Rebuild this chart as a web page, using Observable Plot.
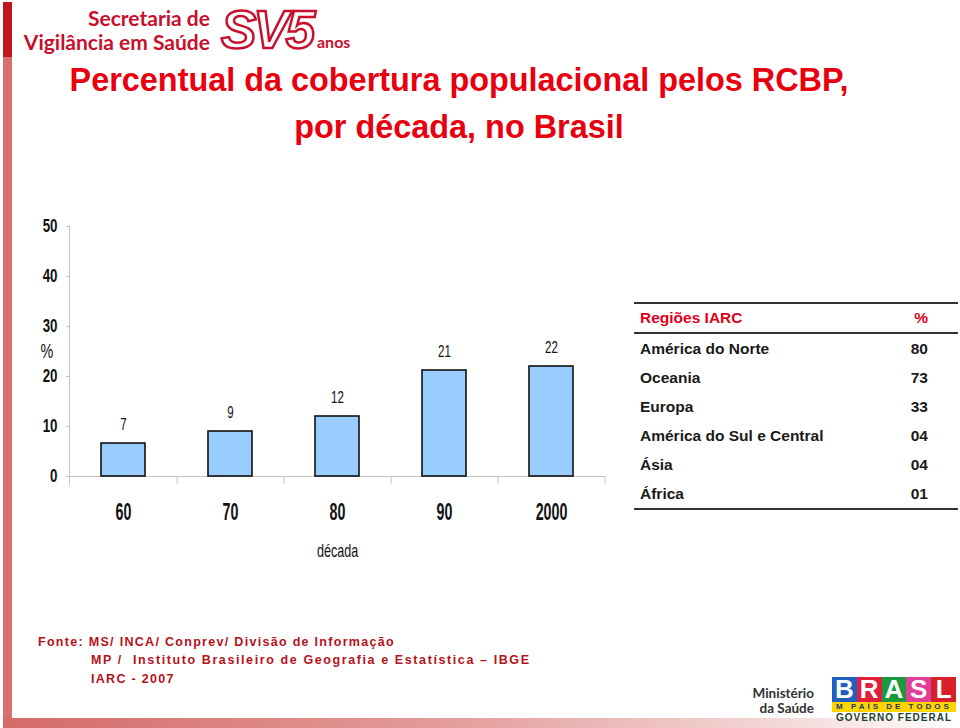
<!DOCTYPE html>
<html>
<head>
<meta charset="utf-8">
<script src="https://cdn.jsdelivr.net/npm/d3@7"></script>
<script src="https://cdn.jsdelivr.net/npm/@observablehq/plot@0.6"></script>
<style>
  html, body { margin: 0; padding: 0; background: #fff; }
  #page { position: relative; width: 960px; height: 728px; overflow: hidden; background: #fff; font-family: "Liberation Sans", Arial, sans-serif; }
  .abs { position: absolute; }
  #stripeTop { left: 3px; top: 2px; width: 9px; height: 55px; background: #c2161c; }
  #stripeLeft { left: 3px; top: 57px; width: 9px; height: 663px; background: #d8716c; }
  #stripeBottom { left: 3px; top: 718px; width: 957px; height: 10px; background: linear-gradient(90deg, #d46a68 0%, #e29a98 45%, #f3d6d5 80%, #ffffff 100%); }
  #logo1 { left: 10px; top: 6px; width: 200px; text-align: right; color: #c8102e; font-family: Lato, "Open Sans", sans-serif; font-weight: bold; font-size: 21px; line-height: 24px; white-space: nowrap; }
  #logo2 { left: 221px; top: 5px; color: #fff; font-family: "Liberation Sans", Arial, sans-serif; font-weight: bold; font-style: italic; font-size: 53px; line-height: 50px; -webkit-text-stroke: 2.5px #c8102e; letter-spacing: -3px; }
  #logo3 { left: 317px; top: 33px; color: #c8102e; font-family: Lato, "Open Sans", sans-serif; font-weight: bold; font-size: 16px; line-height: 18px; }
  .title { left: 0; width: 918px; text-align: center; color: #e8000f; font-family: "Liberation Sans", Arial, sans-serif; font-weight: bold; font-size: 32.4px; line-height: 40px; white-space: nowrap; }
  #chart { left: 0; top: 200px; }
  #table { left: 634px; top: 302px; width: 324px; border-collapse: collapse; font-family: "Liberation Sans", Arial, sans-serif; font-size: 15.5px; font-weight: bold; color: #1a1a1a; }
  #table th, #table td { padding: 0 30px 0 6px; height: 29px; font-weight: bold; white-space: nowrap; }
  #table th { text-align: left; color: #e0001a; height: 28px; }
  #table td.v, #table th.v { text-align: right; }
  #table thead tr { border-top: 2px solid #333; border-bottom: 2px solid #333; }
  #table tbody tr:last-child { border-bottom: 2px solid #333; }
  .foot { color: #b5121b; font-family: "Liberation Sans", Arial, sans-serif; font-weight: bold; font-size: 12.5px; letter-spacing: 1.3px; white-space: pre; line-height: 16px; }
  #ms { left: 740px; top: 686px; width: 74px; text-align: right; color: #333; font-family: Lato, "Open Sans", sans-serif; font-weight: bold; font-size: 13.5px; line-height: 15px; }
  #brasil { left: 832px; top: 677px; width: 124px; height: 46px; }
  #brasil .letters { display: flex; height: 25px; }
  #brasil .letters span { flex: 1; font-family: "Liberation Sans", Arial, sans-serif; font-weight: 900; font-size: 26px; line-height: 25px; text-align: center; color: #fff; }
  #brasil .band { background: #ffd400; height: 10px; font-family: "Liberation Sans", Arial, sans-serif; font-weight: bold; font-size: 8px; line-height: 10px; letter-spacing: 3px; color: #1a3b6e; padding-left: 4px; white-space: nowrap; overflow: hidden; }
  #brasil .gov { font-family: "Liberation Sans", Arial, sans-serif; font-weight: bold; font-size: 10px; line-height: 11px; letter-spacing: 1px; color: #1d4230; text-align: center; white-space: nowrap; }
</style>
</head>
<body>
<div id="page">
  <div id="stripeTop" class="abs"></div>
  <div id="stripeLeft" class="abs"></div>
  <div id="stripeBottom" class="abs"></div>
  <div id="logo1" class="abs">Secretaria de<br>Vigilância em Saúde</div>
  <div id="logo2" class="abs">SV5</div>
  <div id="logo3" class="abs">anos</div>
  <div class="abs title" style="top:60px">Percentual da cobertura populacional pelos RCBP,</div>
  <div class="abs title" style="top:107px">por década, no Brasil</div>
  <div id="chart" class="abs"></div>
  <table id="table" class="abs"></table>
  <div class="abs foot" style="left:38px; top:634px">Fonte: MS/ INCA/ Conprev/ Divisão de Informação</div>
  <div class="abs foot" style="left:91px; top:652px; letter-spacing:1.6px">MP /  Instituto Brasileiro de Geografia e Estatística – IBGE</div>
  <div class="abs foot" style="left:91px; top:671px">IARC - 2007</div>
  <div id="ms" class="abs">Ministério<br>da Saúde</div>
  <div id="brasil" class="abs">
    <div class="letters">
      <span style="background:#1f5fbf">B</span><span style="background:#e0203a">R</span><span style="background:#1a9a3c">A</span><span style="background:#e0409a">S</span><span style="background:#d8202a">L</span>
    </div>
    <div class="band">M PAÍS DE TODOS</div>
    <div class="gov">GOVERNO FEDERAL</div>
  </div>
</div>
<script>
// ---- data ----
const decades = ["60", "70", "80", "90", "2000"];
const coverage = [6.6, 9, 12, 21.2, 22];
const yTicks = [0, 10, 20, 30, 40, 50];
const regions = ["América do Norte", "Oceania", "Europa", "América do Sul e Central", "Ásia", "África"];
const regionPct = [80, 73, 33, 4, 4, 1];

const data = decades.map((d, i) => ({decade: d, value: coverage[i]}));

// ---- chart ----
const W = 620, H = 380, ML = 69, MR = 15, MT = 26, MB = 104;
const step = (W - ML - MR) / decades.length;

const chart = Plot.plot({
  width: W,
  height: H,
  marginLeft: ML,
  marginRight: MR,
  marginTop: MT,
  marginBottom: MB,
  style: {fontFamily: '"Liberation Sans", Arial, sans-serif', color: "#111", background: "transparent", overflow: "visible"},
  x: {type: "band", domain: decades, paddingInner: 0.59, paddingOuter: 0.295},
  y: {domain: [0, 50], ticks: yTicks},
  marks: [
    Plot.frame({anchor: "left", stroke: "#c4c4c4", insetBottom: -8}),
    Plot.ruleY([0], {stroke: "#c4c4c4"}),
    Plot.ruleX(decades, {x: d => d, y1: 0, y2: 0, dx: step / 2, insetBottom: -8, stroke: "#c4c4c4"}),
    Plot.axisY({ticks: yTicks, tickSize: 3, tickPadding: 9, stroke: "#c4c4c4", fontSize: 18.5, fontWeight: "bold", fill: "#111", label: null}),
    Plot.axisX({tickSize: 0, tickPadding: 27, fontSize: 23, fontWeight: "bold", fill: "#111", label: null}),
    Plot.barY(data, {x: "decade", y: "value", fill: "#99ccff", stroke: "#111", strokeWidth: 1.6}),
    Plot.text(data, {x: "decade", y: "value", text: d => d3.format(".0f")(d.value), dy: -19, fontSize: 16, fill: "#111"}),
    Plot.text(["%"], {frameAnchor: "left", dx: -29, fontSize: 20, fill: "#111"}),
    Plot.text(["década"], {frameAnchor: "bottom", dy: 80, fontSize: 17.5, fill: "#111"})
  ]
});
document.getElementById("chart").appendChild(chart);

// condense chart texts horizontally (narrow face look)
function condense(selector, sx) {
  chart.querySelectorAll(selector).forEach(t => {
    if (t.dataset.condensed) return;
    t.dataset.condensed = "1";
    const b = t.getBBox();
    const anchor = getComputedStyle(t).textAnchor || "start";
    const ax = anchor === "end" ? b.x + b.width : anchor === "middle" ? b.x + b.width / 2 : b.x;
    const prev = t.getAttribute("transform") || "";
    t.setAttribute("transform", `${prev} translate(${ax},0) scale(${sx},1) translate(${-ax},0)`);
  });
}
condense('g[aria-label="x-axis tick label"] text', 0.62);
condense('g[aria-label="y-axis tick label"] text', 0.72);
condense("text", 0.72);

// ---- table ----
const table = d3.select("#table");
const head = table.append("thead").append("tr");
head.append("th").text("Regiões IARC");
head.append("th").attr("class", "v").text("%");
const body = table.append("tbody");
regions.forEach((r, i) => {
  const tr = body.append("tr");
  tr.append("td").text(r);
  tr.append("td").attr("class", "v").text(d3.format("02d")(regionPct[i]));
});
</script>
</body>
</html>
